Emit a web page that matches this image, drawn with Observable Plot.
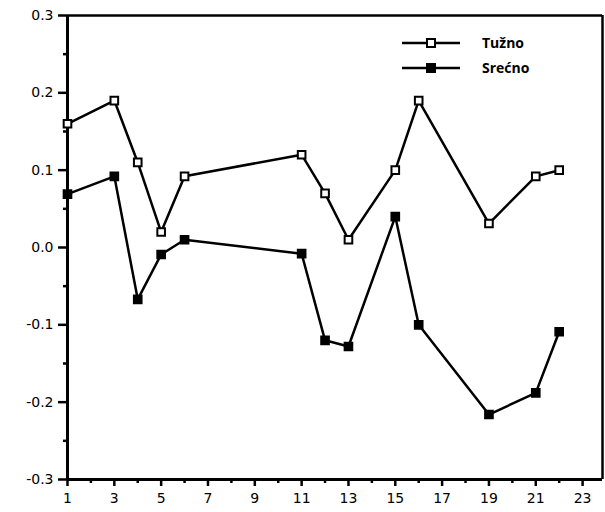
<!DOCTYPE html>
<html>
<head>
<meta charset="utf-8">
<script src="https://cdn.jsdelivr.net/npm/d3@7"></script>
<script src="https://cdn.jsdelivr.net/npm/@observablehq/plot@0.6"></script>
<style>
  html, body { margin: 0; padding: 0; background: #fff; }
  #wrap { position: relative; width: 605px; height: 512px; }
  #legend { position: absolute; left: 0; top: 0; }
  #wrap svg [aria-label="y-axis tick"],
  #wrap svg [aria-label="y-axis tick"] path,
  #wrap svg [aria-label="x-axis tick"],
  #wrap svg [aria-label="x-axis tick"] path { stroke-width: 2.5px; }
</style>
</head>
<body>
<div id="wrap"></div>
<script>
// Data
const xs = [1, 3, 4, 5, 6, 11, 12, 13, 15, 16, 19, 21, 22];
const tuzno = [0.16, 0.19, 0.11, 0.02, 0.092, 0.12, 0.07, 0.01, 0.10, 0.19, 0.031, 0.092, 0.10];
const srecno = [0.069, 0.092, -0.067, -0.009, 0.01, -0.008, -0.12, -0.128, 0.04, -0.10, -0.216, -0.188, -0.109];
const seriesNames = ["Tužno", "Srećno"];
const yTicks = [-0.3, -0.2, -0.1, 0.0, 0.1, 0.2, 0.3];
const yMinor = [-0.25, -0.15, -0.05, 0.05, 0.15, 0.25];
const xTicks = [1, 3, 5, 7, 9, 11, 13, 15, 17, 19, 21, 23];
const xMinor = [2, 4, 6, 8, 10, 12, 14, 16, 18, 20, 22];
const xDomain = [1, 23.85];
const yDomain = [-0.3, 0.3];

const rows = [];
xs.forEach((x, i) => {
  rows.push({x, y: tuzno[i], s: seriesNames[0]});
  rows.push({x, y: srecno[i], s: seriesNames[1]});
});
const dT = rows.filter(d => d.s === seriesNames[0]);
const dS = rows.filter(d => d.s === seriesNames[1]);

const font = "'DejaVu Sans', sans-serif";
const chart = Plot.plot({
  width: 605,
  height: 512,
  marginLeft: 67,
  marginRight: 3,
  marginTop: 15,
  marginBottom: 33,
  style: {fontFamily: font, fontSize: "14px", background: "#fff", color: "#000"},
  x: {domain: xDomain},
  y: {domain: yDomain},
  marks: [
    Plot.ruleX([xDomain[1]], {stroke: "#000", strokeWidth: 2.5}),
    Plot.ruleY([yDomain[1]], {stroke: "#000", strokeWidth: 2.5}),
    Plot.ruleX([xDomain[0]], {stroke: "#000", strokeWidth: 3}),
    Plot.ruleY([yDomain[0]], {stroke: "#000", strokeWidth: 3}),
    Plot.axisY(yTicks, {tickSize: 9, tickPadding: 5, strokeWidth: 2.5, fontSize: 14, tickFormat: d => d.toFixed(1), label: null}),
    Plot.axisY(yMinor, {tickSize: 4, text: null, strokeWidth: 2, label: null}),
    Plot.axisX(xTicks, {tickSize: 7, tickPadding: 7, strokeWidth: 2.5, fontSize: 14, tickFormat: d => String(d), label: null}),
    Plot.axisX(xMinor, {tickSize: 4, text: null, strokeWidth: 2, label: null}),
    Plot.line(dT, {x: "x", y: "y", stroke: "#000", strokeWidth: 2.5}),
    Plot.line(dS, {x: "x", y: "y", stroke: "#000", strokeWidth: 2.5}),
    Plot.dot(dT, {x: "x", y: "y", symbol: "square", r: 4.3, fill: "#fff", stroke: "#000", strokeWidth: 2}),
    Plot.dot(dS, {x: "x", y: "y", symbol: "square", r: 4.6, fill: "#000", stroke: "#000", strokeWidth: 1.5})
  ]
});
const wrap = document.getElementById("wrap");
wrap.appendChild(chart);

// Legend overlay
const ns = "http://www.w3.org/2000/svg";
const leg = document.createElementNS(ns, "svg");
leg.setAttribute("id", "legend");
leg.setAttribute("width", 605);
leg.setAttribute("height", 100);
const items = [{name: seriesNames[0], fill: "#fff", y: 43}, {name: seriesNames[1], fill: "#000", y: 68}];
items.forEach(it => {
  const l = document.createElementNS(ns, "line");
  l.setAttribute("x1", 402); l.setAttribute("x2", 460);
  l.setAttribute("y1", it.y); l.setAttribute("y2", it.y);
  l.setAttribute("stroke", "#000"); l.setAttribute("stroke-width", 2.5);
  leg.appendChild(l);
  const r = document.createElementNS(ns, "rect");
  r.setAttribute("x", 427); r.setAttribute("y", it.y - 4);
  r.setAttribute("width", 8); r.setAttribute("height", 8);
  r.setAttribute("fill", it.fill); r.setAttribute("stroke", "#000"); r.setAttribute("stroke-width", 2);
  leg.appendChild(r);
  const t = document.createElementNS(ns, "text");
  t.setAttribute("x", 482); t.setAttribute("y", it.y + 5);
  t.setAttribute("font-family", "'Open Sans', 'Liberation Sans', sans-serif");
  t.setAttribute("font-weight", "bold");
  t.setAttribute("font-size", 14);
  t.textContent = it.name;
  leg.appendChild(t);
});
wrap.appendChild(leg);
</script>
</body>
</html>
